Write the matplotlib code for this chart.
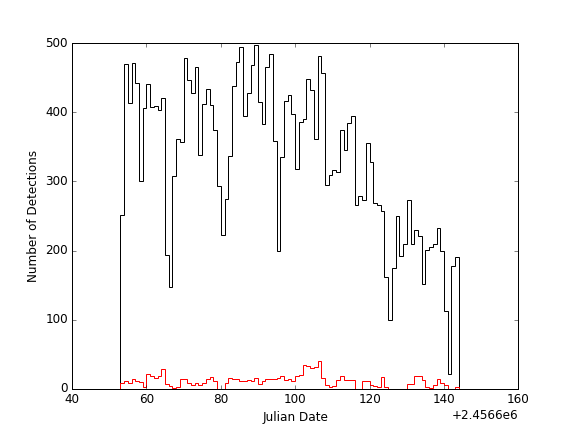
import numpy as np
import matplotlib
matplotlib.use('Agg')
import matplotlib.pyplot as plt
from matplotlib.ticker import ScalarFormatter

jd_offset = 2456600
first_day = 53

all_counts = [252, 470, 413, 471, 442, 300, 406, 441, 408, 409,
              404, 420, 194, 147, 308, 362, 357, 479, 447, 428,
              465, 338, 412, 434, 410, 374, 294, 222, 275, 337,
              438, 473, 494, 394, 428, 469, 498, 415, 383, 465,
              484, 359, 200, 335, 417, 425, 398, 318, 386, 391,
              448, 432, 362, 482, 457, 295, 310, 316, 314, 374,
              345, 384, 395, 266, 279, 273, 356, 328, 269, 266,
              257, 162, 99, 175, 250, 192, 210, 273, 210, 230,
              221, 152, 201, 205, 210, 232, 200, 112, 21, 178,
              190]

sub_counts = [8, 12, 9, 14, 12, 10, 2, 22, 18, 16,
              18, 28, 7, 4, 1, 2, 14, 14, 8, 5,
              8, 6, 9, 14, 17, 12, 0, 0, 9, 15,
              14, 14, 12, 12, 13, 12, 15, 7, 11, 14,
              14, 14, 15, 19, 13, 14, 12, 18, 20, 35,
              33, 30, 32, 40, 15, 5, 2, 4, 13, 18,
              13, 13, 13, 0, 0, 12, 12, 5, 4, 2,
              17, 3, 0, 0, 0, 0, 0, 7, 7, 19,
              19, 13, 3, 1, 6, 14, 8, 6, 0, 0,
              2]

plt.style.use('classic')
fig, ax = plt.subplots(figsize=(8, 6), dpi=72)

edges = jd_offset + first_day + np.arange(len(all_counts) + 1)
ax.stairs(all_counts, edges, baseline=0, color='black', linewidth=1)
ax.stairs(sub_counts, edges, baseline=0, color='red', linewidth=1)

ax.set_xlim(jd_offset + 40, jd_offset + 160)
ax.set_ylim(0, 500)
ax.set_xticks(jd_offset + np.arange(40, 161, 20))
ax.set_yticks(np.arange(0, 501, 100))
fmt = ScalarFormatter(useOffset=jd_offset)
ax.xaxis.set_major_formatter(fmt)

ax.set_xlabel('Julian Date')
ax.set_ylabel('Number of Detections')

fig.savefig('out.png', dpi=72)
